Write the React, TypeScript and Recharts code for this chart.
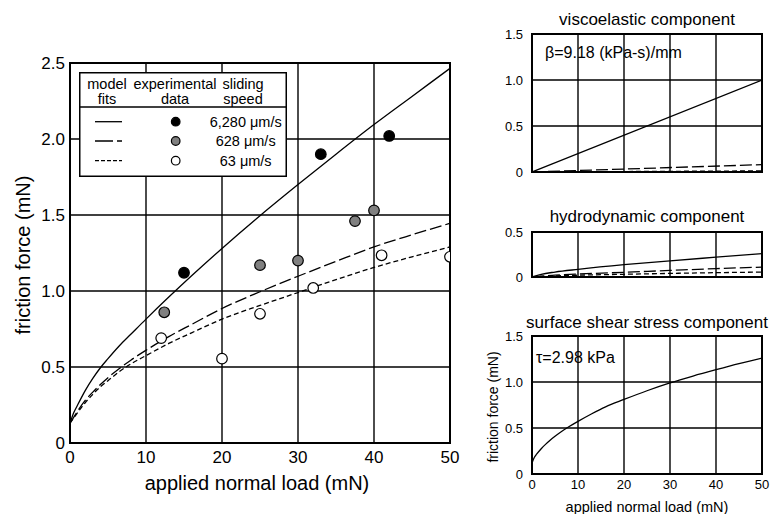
import React from "react";
import {
  ComposedChart,
  Line,
  Scatter,
  XAxis,
  YAxis,
  CartesianGrid,
  ReferenceArea,
  Legend,
} from "recharts";

const FONT = '"Liberation Sans", Arial, sans-serif';

// axis ticks
const loadTicks = [0, 10, 20, 30, 40, 50];
const frictionTicks = [0, 0.5, 1, 1.5, 2, 2.5];
const componentTicks = [0, 0.5, 1, 1.5];
const hydroTicks = [0, 0.5];

// model fits, main panel
const fitLoads = [0, 0.5, 1, 2, 3, 4, 5, 6.5, 8, 10, 13, 16, 20, 25, 30, 35, 40, 45, 50];
const fitFast = [0.13, 0.2, 0.25, 0.345, 0.425, 0.495, 0.555, 0.64, 0.715, 0.815, 0.96, 1.1, 1.28, 1.495, 1.7, 1.9, 2.095, 2.28, 2.465];
const fitMid = [0.13, 0.17, 0.21, 0.28, 0.335, 0.385, 0.43, 0.49, 0.545, 0.61, 0.7, 0.78, 0.885, 0.995, 1.097, 1.195, 1.29, 1.37, 1.445];
const fitSlow = [0.13, 0.165, 0.2, 0.265, 0.32, 0.37, 0.41, 0.47, 0.52, 0.575, 0.655, 0.725, 0.815, 0.905, 0.99, 1.075, 1.155, 1.225, 1.29];

// experimental data
const fastLoads = [15, 33, 42];
const fastForce = [1.12, 1.9, 2.02];
const midLoads = [12.4, 25, 30, 37.5, 40];
const midForce = [0.86, 1.17, 1.2, 1.46, 1.53];
const slowLoads = [12, 20, 25, 32, 41, 50];
const slowForce = [0.69, 0.555, 0.85, 1.02, 1.235, 1.225];

// viscoelastic component
const viscoLoads = [0, 50];
const viscoFast = [0, 1.0];
const viscoMid = [0, 0.08];
const viscoSlow = [0, 0.012];

// hydrodynamic component
const hydroLoads = [0, 2, 5, 10, 20, 30, 40, 50];
const hydroFast = [0, 0.03, 0.055, 0.085, 0.137, 0.18, 0.22, 0.26];
const hydroMid = [0, 0.01, 0.02, 0.033, 0.052, 0.073, 0.093, 0.11];
const hydroSlow = [0, 0.006, 0.012, 0.02, 0.03, 0.04, 0.048, 0.055];

// surface shear stress component
const shearLoads = [0, 0.5, 1, 2, 3, 4, 5, 6.5, 8, 10, 13, 16, 20, 25, 30, 35, 40, 45, 50];
const shearForce = [0.12, 0.18, 0.215, 0.275, 0.325, 0.37, 0.41, 0.465, 0.513, 0.572, 0.655, 0.73, 0.81, 0.905, 0.99, 1.065, 1.134, 1.2, 1.26];

const toPoints = (xs: number[], ys: number[]) => xs.map((x, i) => ({ x, y: ys[i] }));

const fmt = (v: number) => (v === 0 ? "0" : v.toFixed(1));

const SOLID = undefined;
const DASHED = "12 4";
const DOTTED = "5 3";

const dot = (fill: string, r: number) => (props: any) =>
  <circle cx={props.cx} cy={props.cy} r={r} fill={fill} stroke="#000" strokeWidth={1.2} />;

const LegendBox = () => (
  <svg width={208} height={105} style={{ display: "block", fontFamily: FONT }}>
    <rect x={0.75} y={0.75} width={206.5} height={103.5} fill="#fff" stroke="#000" strokeWidth={1.5} />
    <line x1={0} x2={208} y1={35} y2={35} stroke="#000" strokeWidth={1.5} />
    <g fontSize={14.5} textAnchor="middle" fill="#000">
      <text x={28} y={16.5}>model</text>
      <text x={28} y={31.5}>fits</text>
      <text x={96} y={16.5}>experimental</text>
      <text x={96} y={31.5}>data</text>
      <text x={164} y={16.5}>sliding</text>
      <text x={164} y={31.5}>speed</text>
      <text x={166.7} y={54.7}>6,280 μm/s</text>
      <text x={166.7} y={74}>628 μm/s</text>
      <text x={166.7} y={93.7}>63 μm/s</text>
    </g>
    <line x1={16} x2={43} y1={49.7} y2={49.7} stroke="#000" strokeWidth={1.3} />
    <line x1={16} x2={43} y1={69} y2={69} stroke="#000" strokeWidth={1.3} strokeDasharray="18 4 6 4" />
    <line x1={16} x2={43} y1={88.7} y2={88.7} stroke="#000" strokeWidth={1.3} strokeDasharray="4 2" />
    <circle cx={96.7} cy={49.7} r={4.3} fill="#000" stroke="#000" strokeWidth={1.2} />
    <circle cx={96.7} cy={69} r={4.3} fill="#808080" stroke="#000" strokeWidth={1.2} />
    <circle cx={96.7} cy={88.7} r={4.3} fill="#fff" stroke="#000" strokeWidth={1.2} />
  </svg>
);

const fitLine = (data: { x: number; y: number }[], dash: string | undefined, key: string) => (
  <Line
    key={key}
    data={data}
    dataKey="y"
    type="monotone"
    stroke="#000"
    strokeWidth={1.3}
    strokeDasharray={dash}
    dot={false}
    activeDot={false}
    isAnimationActive={false}
  />
);

const tickStyle = (size: number) => ({ fill: "#000", fontSize: size, fontFamily: FONT });

const Text = ({ x, y, size, children, rotate, anchor = "center" }: any) => (
  <div
    style={{
      position: "absolute",
      left: x,
      top: y,
      transform: `translate(${anchor === "left" ? "0" : "-50%"}, -50%)${rotate ? " rotate(-90deg)" : ""}`,
      fontSize: size,
      fontFamily: FONT,
      whiteSpace: "nowrap",
      color: "#000",
      lineHeight: 1,
    }}
  >
    {children}
  </div>
);

const MainChart = () => (
  <ComposedChart width={470} height={490} margin={{ top: 63, right: 20, bottom: 0, left: 0 }}>
    <CartesianGrid stroke="#000" strokeWidth={1.4} />
    <XAxis
      type="number"
      dataKey="x"
      domain={[0, 50]}
      ticks={loadTicks}
      height={47}
      tickSize={0}
      tickMargin={8}
      axisLine={false}
      tick={tickStyle(17)}
      allowDataOverflow
    />
    <YAxis
      type="number"
      domain={[0, 2.5]}
      ticks={frictionTicks}
      tickFormatter={fmt}
      width={70}
      tickSize={0}
      tickMargin={5}
      axisLine={false}
      tick={tickStyle(17)}
      allowDataOverflow
    />
    <ReferenceArea x1={0} x2={50} y1={0} y2={2.5} fill="none" stroke="#000" strokeWidth={2} />
    {fitLine(toPoints(fitLoads, fitFast), SOLID, "f")}
    {fitLine(toPoints(fitLoads, fitMid), DASHED, "m")}
    {fitLine(toPoints(fitLoads, fitSlow), DOTTED, "s")}
    <Scatter data={toPoints(fastLoads, fastForce)} dataKey="y" shape={dot("#000", 5.3)} isAnimationActive={false} />
    <Scatter data={toPoints(midLoads, midForce)} dataKey="y" shape={dot("#808080", 5.3)} isAnimationActive={false} />
    <Scatter data={toPoints(slowLoads, slowForce)} dataKey="y" shape={dot("#fff", 5.3)} isAnimationActive={false} />
    <Legend
      layout="horizontal"
      verticalAlign="middle"
      align="center"
      content={() => <LegendBox />}
      wrapperStyle={{ left: 79, top: 72, width: 208, height: 105 }}
    />
  </ComposedChart>
);

const ComponentChart = ({ height, top, ticks, domainMax, showX, children }: any) => (
  <ComposedChart width={310} height={height} margin={{ top, right: 8, bottom: showX ? 0 : 8, left: 0 }}>
    <CartesianGrid stroke="#000" strokeWidth={1.4} />
    <XAxis
      type="number"
      dataKey="x"
      domain={[0, 50]}
      ticks={loadTicks}
      hide={!showX}
      height={20}
      tickSize={0}
      tickMargin={6}
      axisLine={false}
      tick={tickStyle(13)}
      allowDataOverflow
    />
    <YAxis
      type="number"
      domain={[0, domainMax]}
      ticks={ticks}
      tickFormatter={fmt}
      width={72}
      tickSize={0}
      tickMargin={9}
      axisLine={false}
      tick={tickStyle(13)}
      allowDataOverflow
    />
    <ReferenceArea x1={0} x2={50} y1={0} y2={domainMax} fill="none" stroke="#000" strokeWidth={2} />
    {children}
  </ComposedChart>
);

export default function App() {
  return (
    <div style={{ position: "absolute", left: 0, top: 0, width: 770, height: 514, background: "#fff" }}>
      <div style={{ position: "absolute", left: 0, top: 0 }}>
        <MainChart />
      </div>
      <Text x={23} y={255} size={20} rotate>friction force (mN)</Text>
      <Text x={257} y={483} size={20}>applied normal load (mN)</Text>

      <Text x={647} y={19} size={17}>viscoelastic component</Text>
      <div style={{ position: "absolute", left: 460, top: 0 }}>
        <ComponentChart height={180} top={34} ticks={componentTicks} domainMax={1.5}>
          {fitLine(toPoints(viscoLoads, viscoFast), SOLID, "vf")}
          {fitLine(toPoints(viscoLoads, viscoMid), DASHED, "vm")}
          {fitLine(toPoints(viscoLoads, viscoSlow), DOTTED, "vs")}
        </ComponentChart>
      </div>
      <Text x={545} y={53} size={16} anchor="left">β=9.18 (kPa-s)/mm</Text>

      <Text x={647} y={216} size={17}>hydrodynamic component</Text>
      <div style={{ position: "absolute", left: 460, top: 190 }}>
        <ComponentChart height={95} top={42} ticks={hydroTicks} domainMax={0.5}>
          {fitLine(toPoints(hydroLoads, hydroFast), SOLID, "hf")}
          {fitLine(toPoints(hydroLoads, hydroMid), DASHED, "hm")}
          {fitLine(toPoints(hydroLoads, hydroSlow), DOTTED, "hs")}
        </ComponentChart>
      </div>

      <Text x={647} y={322} size={17}>surface shear stress component</Text>
      <div style={{ position: "absolute", left: 460, top: 290 }}>
        <ComponentChart height={204} top={46} ticks={componentTicks} domainMax={1.5} showX>
          {fitLine(toPoints(shearLoads, shearForce), SOLID, "sf")}
        </ComponentChart>
      </div>
      <Text x={536} y={358} size={16} anchor="left">τ=2.98 kPa</Text>
      <Text x={493} y={407} size={14} rotate>friction force (mN)</Text>
      <Text x={647} y={507} size={14.5}>applied normal load (mN)</Text>
    </div>
  );
}
